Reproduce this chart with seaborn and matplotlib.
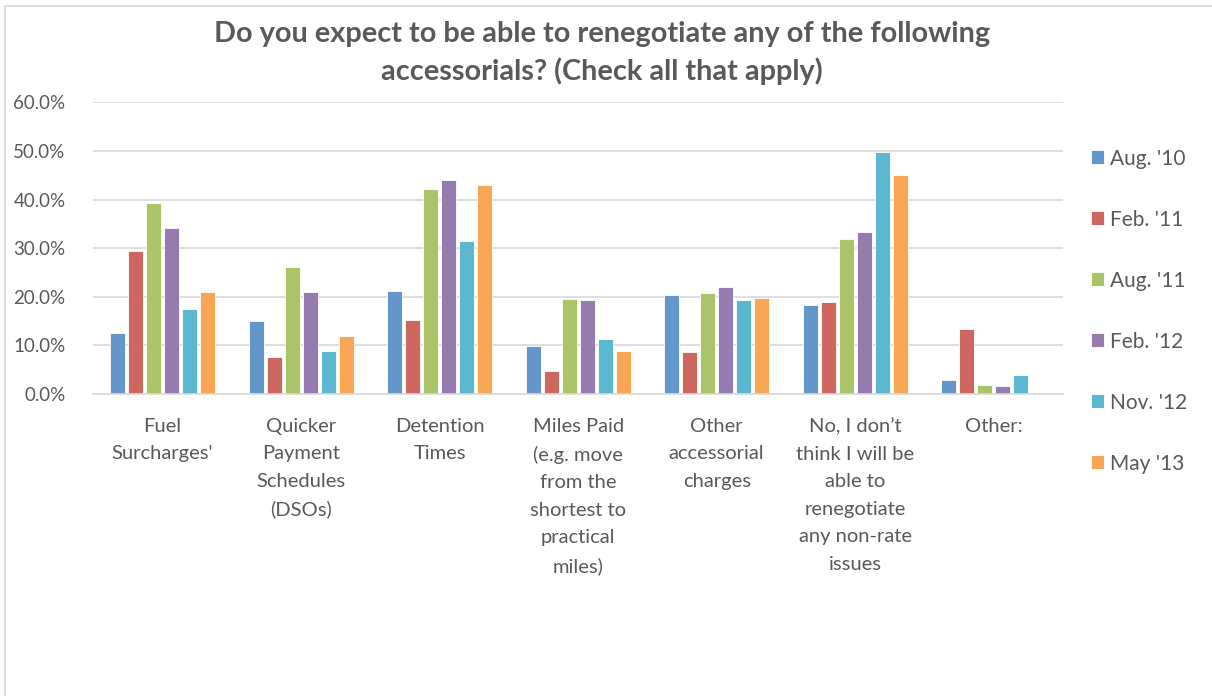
import numpy as np
import pandas as pd
import matplotlib
matplotlib.use("Agg")
import matplotlib.pyplot as plt
import seaborn as sns
from matplotlib.ticker import PercentFormatter
from matplotlib.lines import Line2D

categories = [
    "Fuel\nSurcharges'",
    "Quicker\nPayment\nSchedules\n(DSOs)",
    "Detention\nTimes",
    "Miles Paid\n(e.g. move\nfrom the\nshortest to\npractical\nmiles)",
    "Other\naccessorial\ncharges",
    "No, I don\u2019t\nthink I will be\nable to\nrenegotiate\nany non-rate\nissues",
    "Other:",
]
surveys = ["Aug. '10", "Feb. '11", "Aug. '11", "Feb. '12", "Nov. '12", "May '13"]

aug10 = [0.126, 0.150, 0.212, 0.098, 0.203, 0.183, 0.028]
feb11 = [0.295, 0.076, 0.152, 0.048, 0.086, 0.190, 0.134]
aug11 = [0.393, 0.262, 0.421, 0.196, 0.207, 0.318, 0.019]
feb12 = [0.342, 0.210, 0.440, 0.193, 0.219, 0.333, 0.017]
nov12 = [0.174, 0.088, 0.314, 0.114, 0.194, 0.498, 0.039]
may13 = [0.209, 0.120, 0.429, 0.088, 0.197, 0.450, np.nan]

colors = ["#6396C9", "#CD665F", "#ABC46A", "#957BB0", "#5CB8D1", "#F9A655"]

rows = []
for name, vals in zip(surveys, [aug10, feb11, aug11, feb12, nov12, may13]):
    for cat, v in zip(categories, vals):
        rows.append({"category": cat, "survey": name, "share": v})
df = pd.DataFrame(rows)

sns.set_style("white")
plt.rcParams["font.family"] = ["Lato", "DejaVu Sans"]
text_color = "#595959"

fig = plt.figure(figsize=(12.12, 6.96), dpi=100)
ax = fig.add_axes([0.077, 0.434, 0.800, 0.419])

sns.barplot(
    data=df, x="category", y="share", hue="survey",
    order=categories, hue_order=surveys, palette=colors,
    width=0.78, gap=0.16, edgecolor="white", linewidth=0.6,
    saturation=1, ax=ax, errorbar=None,
)

ax.set_ylim(0, 0.6)
ax.set_yticks(np.arange(0, 0.61, 0.1))
ax.yaxis.set_major_formatter(PercentFormatter(1.0, decimals=1))
ax.set_xlim(-0.5, len(categories) - 0.5)
ax.grid(axis="y", color="#D9D9D9", linewidth=1.2)
ax.set_axisbelow(True)
for s in ["top", "right", "left"]:
    ax.spines[s].set_visible(False)
ax.spines["bottom"].set_color("#D9D9D9")
ax.spines["bottom"].set_linewidth(1.2)
ax.set_xlabel("")
ax.set_ylabel("")
ax.tick_params(axis="y", length=0, pad=20, labelsize=13.5, labelcolor=text_color)
ax.tick_params(axis="x", length=0, pad=17, labelsize=14.5, labelcolor=text_color)
for lbl in ax.get_xticklabels():
    lbl.set_linespacing(1.75)
    lbl.set_horizontalalignment("center")

leg = ax.legend(
    loc="upper left", bbox_to_anchor=(1.02, 0.87), frameon=False,
    fontsize=15, labelcolor=text_color, handlelength=0.65, handleheight=0.65,
    handletextpad=0.3, labelspacing=1.97, borderaxespad=0,
)

fig.suptitle(
    "Do you expect to be able to renegotiate any of the following\naccessorials? (Check all that apply)",
    x=0.497, y=0.97, fontsize=20.8, fontweight="bold", color=text_color, linespacing=1.45,
)

# chart frame (top and left edges visible)
fig.add_artist(Line2D([0.004, 1.0], [0.992, 0.992], transform=fig.transFigure, color="#D9D9D9", linewidth=1.2))
fig.add_artist(Line2D([0.004, 0.004], [0.0, 0.992], transform=fig.transFigure, color="#D9D9D9", linewidth=1.2))

fig.savefig("out.png", dpi=100)
